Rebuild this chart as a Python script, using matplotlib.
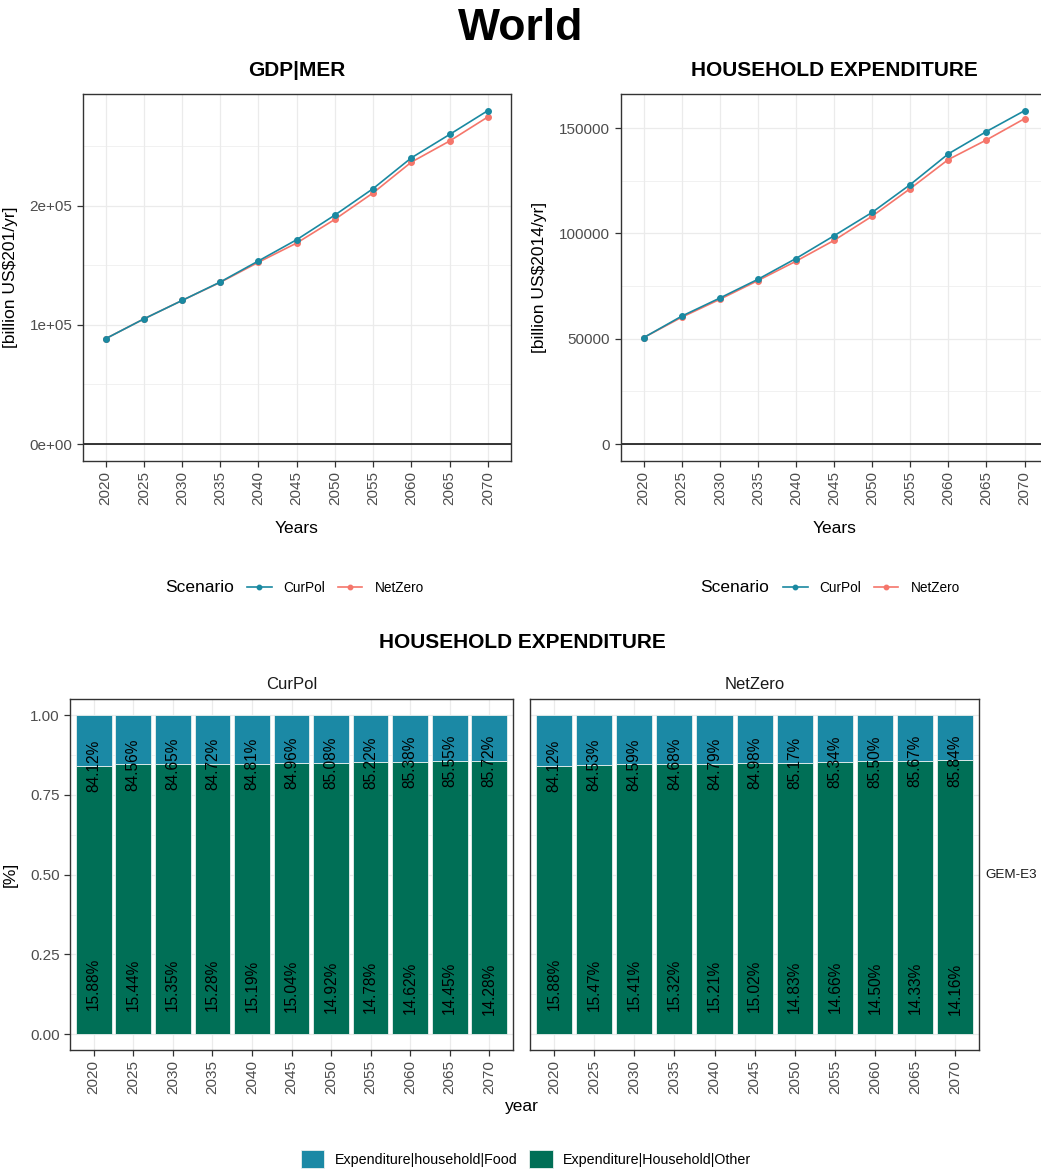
import matplotlib
matplotlib.use("Agg")
import matplotlib.pyplot as plt
from matplotlib.ticker import FuncFormatter, MultipleLocator
import numpy as np

plt.rcParams['font.family'] = ['Liberation Sans', 'DejaVu Sans']

# ---- data ----
years = [2020, 2025, 2030, 2035, 2040, 2045, 2050, 2055, 2060, 2065, 2070]
scenarios = ['CurPol', 'NetZero']

gdp_curpol = [88400, 105000, 120500, 136000, 153700, 171500, 192200, 214400, 240200, 259800, 279800]
gdp_netzero = [88400, 105000, 120500, 135700, 152600, 168700, 188600, 210800, 236600, 254300, 274500]

hh_curpol = [50500, 60700, 69300, 78200, 88100, 98900, 110000, 123200, 137800, 148400, 158300]
hh_netzero = [50500, 60200, 68700, 77600, 86800, 96700, 108200, 121300, 135100, 144400, 154500]

food_curpol = [15.88, 15.44, 15.35, 15.28, 15.19, 15.04, 14.92, 14.78, 14.62, 14.45, 14.28]
other_curpol = [84.12, 84.56, 84.65, 84.72, 84.81, 84.96, 85.08, 85.22, 85.38, 85.55, 85.72]
food_netzero = [15.88, 15.47, 15.41, 15.32, 15.21, 15.02, 14.83, 14.66, 14.50, 14.33, 14.16]
other_netzero = [84.12, 84.53, 84.59, 84.68, 84.79, 84.98, 85.17, 85.34, 85.50, 85.67, 85.84]

share_labels = ['Expenditure|household|Food', 'Expenditure|Household|Other']

# colours
c_curpol = '#1A89A1'
c_netzero = '#F5766B'
c_food = '#1B89A5'
c_other = '#006F56'
grid_c = '#EBEBEB'
tick_c = '#4D4D4D'

W, H = 1041, 1171
fig = plt.figure(figsize=(W / 100, H / 100), dpi=100)


def px_axes(left, top, right, bottom):
    return fig.add_axes([left / W, 1 - bottom / H, (right - left) / W, (bottom - top) / H])


def style_axes(ax):
    for s in ax.spines.values():
        s.set_color('#333333')
        s.set_linewidth(1.0)
    ax.set_facecolor('white')
    ax.grid(True, which='major', color=grid_c, lw=0.9, zorder=0)
    ax.grid(True, which='minor', axis='y', color=grid_c, lw=0.5, zorder=0)
    ax.set_axisbelow(True)
    ax.tick_params(axis='both', which='major', length=4, width=0.9, color='#333333',
                   labelcolor=tick_c, labelsize=11)
    ax.tick_params(axis='y', which='minor', length=0)
    ax.set_xticks(years)
    ax.set_xticklabels([str(y) for y in years], rotation=90)
    ax.set_xlim(2017, 2073)


def line_panel(ax, cur, net, title, ylabel, step, fmt, ylabel_x):
    style_axes(ax)
    ax.axhline(0, color='black', lw=1.1, zorder=1)
    l1, = ax.plot(years, cur, color=c_curpol, lw=1.2, marker='o', ms=4, zorder=3, label='CurPol')
    l2, = ax.plot(years, net, color=c_netzero, lw=1.2, marker='o', ms=4, zorder=2, label='NetZero')
    top = max(max(cur), max(net))
    ax.set_ylim(-0.05 * top, 1.05 * top)
    ax.yaxis.set_major_locator(MultipleLocator(step))
    ax.yaxis.set_minor_locator(MultipleLocator(step / 2))
    ax.yaxis.set_major_formatter(FuncFormatter(fmt))
    ax.set_title(title, fontsize=15, fontweight='bold', pad=13)
    ax.set_ylabel(ylabel, fontsize=12.5, color='black')
    ax.yaxis.set_label_coords(ylabel_x, 0.5)
    ax.set_xlabel('Years', fontsize=12.5, color='black')
    ax.xaxis.set_label_coords(0.5, -0.165)
    return l1, l2


ax1 = px_axes(82.7, 94, 510.7, 460.7)
h1 = line_panel(ax1, gdp_curpol, gdp_netzero, 'GDP|MER', '[billion US$201/yr]', 100000,
                lambda v, p: f'{v:.0e}', -0.152)

ax2 = px_axes(620.7, 94, 1047.4, 460.7)
h2 = line_panel(ax2, hh_curpol, hh_netzero, 'HOUSEHOLD EXPENDITURE', '[billion US$2014/yr]', 50000,
                lambda v, p: f'{v:.0f}', -0.172)

# scenario legends under the line panels
for hs, tx, lx in [(h1, 165, 247), (h2, 700, 783)]:
    fig.text(tx / W, 1 - 588 / H, 'Scenario', fontsize=12.5, ha='left', va='center')
    fig.legend(handles=list(hs), labels=scenarios, loc='center left',
               bbox_to_anchor=(lx / W, 1 - 588 / H), ncol=2, frameon=False,
               fontsize=9.8, handlelength=1.8, handletextpad=0.9, columnspacing=0.9,
               borderpad=0, borderaxespad=0, markerscale=0.8)

fig.text(0.5, 1 - 28 / H, 'World', fontsize=32, fontweight='bold', ha='center', va='center')
fig.text(522 / W, 1 - 643 / H, 'HOUSEHOLD EXPENDITURE', fontsize=15, fontweight='bold',
         ha='center', va='center')


def bar_panel(ax, food, other, name):
    style_axes(ax)
    ax.grid(True, which='minor', axis='y', color=grid_c, lw=0.5, zorder=0)
    other_f = np.array(other) / 100
    food_f = np.array(food) / 100
    b_other = ax.bar(years, other_f, width=4.5, color=c_other, edgecolor='#E8F0EE', lw=0.6, zorder=2)
    b_food = ax.bar(years, food_f, width=4.5, bottom=other_f, color=c_food, edgecolor='#E8F0EE',
                    lw=0.6, zorder=2)
    for x, o, f in zip(years, other, food):
        ax.text(x, o / 100, f'{o:.2f}%', rotation=90, ha='center', va='center',
                fontsize=11.2, color='black', zorder=4)
        ax.text(x, f / 100, f'{f:.2f}%', rotation=90, ha='center', va='center',
                fontsize=11.2, color='black', zorder=4)
    ax.set_ylim(-0.05, 1.05)
    ax.yaxis.set_major_locator(MultipleLocator(0.25))
    ax.yaxis.set_minor_locator(MultipleLocator(0.125))
    ax.yaxis.set_major_formatter(FuncFormatter(lambda v, p: f'{v:.2f}'))
    ax.text(0.5, 1 + 14.5 / 350.7, name, transform=ax.transAxes, ha='center', va='center',
            fontsize=12, color='#1A1A1A')
    return b_food, b_other


ax3 = px_axes(70, 699.3, 513, 1050)
bars = bar_panel(ax3, food_curpol, other_curpol, 'CurPol')
ax3.set_ylabel('[%]', fontsize=12.5, color='black')
ax3.yaxis.set_label_coords(-0.117, 0.5)

ax4 = px_axes(530, 699.3, 979.3, 1050)
bar_panel(ax4, food_netzero, other_netzero, 'NetZero')
ax4.tick_params(axis='y', which='major', length=0, labelleft=False)
ax4.text(1 + 6 / 449.3, 0.5, 'GEM-E3', transform=ax4.transAxes, ha='left', va='center',
         fontsize=9.7, color='#1A1A1A')

fig.text(522 / W, 1 - 1106 / H, 'year', fontsize=12.5, ha='center', va='center')

fig.legend(handles=list(bars), labels=share_labels, loc='center left',
           bbox_to_anchor=(300.7 / W, 1 - 1159 / H), ncol=2, frameon=False,
           fontsize=10.3, handlelength=1.66, handleheight=1.66, handletextpad=0.7,
           columnspacing=0.85, borderpad=0, borderaxespad=0)

fig.savefig('out.png', dpi=100, facecolor='white')
